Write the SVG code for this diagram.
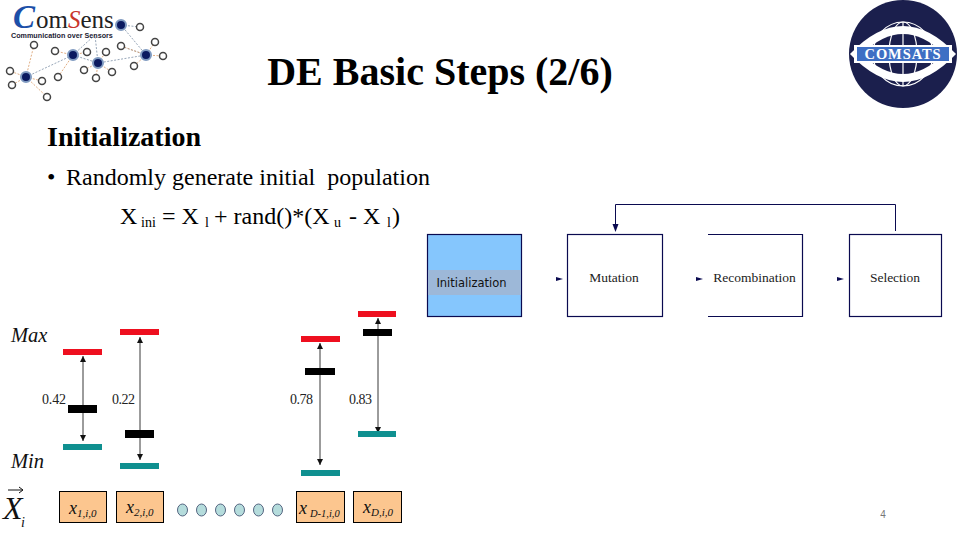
<svg xmlns="http://www.w3.org/2000/svg" width="960" height="540" viewBox="0 0 960 540">
<style>
.s{font-family:"Liberation Serif","Times New Roman",serif;fill:#000}
.f{fill:#fff;stroke:#0a0a50;stroke-width:1.2}
.fl{font-family:"Liberation Serif",serif;font-size:13.5px;fill:#222}
.red{fill:#ee0f1f}.teal{fill:#0f9090}.blk{fill:#000}
.ar{stroke:#222;stroke-width:.9;fill:none;marker-start:url(#a2);marker-end:url(#a1)}
.box{fill:#fcc68f;stroke:#000;stroke-width:1}
.dot{fill:#b5dcdc;stroke:#346;stroke-width:.8}
.num{font-family:"Liberation Serif",serif;font-size:14px;fill:#222}
.it{font-family:"Liberation Serif",serif;font-style:italic;fill:#111}
.hub{fill:#0b1a60;stroke:#7f9ac0;stroke-width:2}
.leaf{fill:#fff;stroke:#444;stroke-width:1.5}
.ln1{stroke:#6a8099;stroke-width:.7;stroke-dasharray:2 1.5;fill:none}
.ln2{stroke:#d99a66;stroke-width:.8;stroke-dasharray:2 1.5;fill:none}
</style>
<defs>
<marker id="a1" markerWidth="8" markerHeight="8" refX="6" refY="3" orient="auto" markerUnits="userSpaceOnUse"><path d="M0 0L6 3L0 6Z" fill="#111"/></marker>
<marker id="a2" markerWidth="8" markerHeight="8" refX="0" refY="3" orient="auto" markerUnits="userSpaceOnUse"><path d="M6 0L0 3L6 6Z" fill="#111"/></marker>
</defs>
<rect width="960" height="540" fill="#fff"/>

<g id="comsens-logo">
<path class="ln1" d="M26 77L73 55L98 63L146 55L121 25"/>
<path class="ln1" d="M121 25L140 27M73 55L95 35M98 63L95 35M146 55L118 45"/>
<path class="ln2" d="M26 77L34 45M26 77L10 71M26 77L12 85M26 77L42 81M26 77L47 97M73 55L55 51M73 55L58 77M73 55L87 52M98 63L84 70M98 63L106 52M98 63L112 72M98 63L96 78M146 55L121 46M146 55L155 42M146 55L163 56M146 55L134 66"/>
<g class="leaf"><circle cx="34" cy="45" r="3.500"/><circle cx="10" cy="71" r="3.500"/><circle cx="12" cy="85" r="3.500"/><circle cx="42" cy="81" r="3.500"/><circle cx="47" cy="97" r="3.500"/><circle cx="55" cy="51" r="3.500"/><circle cx="58" cy="77" r="3.500"/><circle cx="87" cy="52" r="3.500"/><circle cx="84" cy="70" r="3.500"/><circle cx="106" cy="52" r="3.500"/><circle cx="112" cy="72" r="3.500"/><circle cx="96" cy="78" r="3.500"/><circle cx="121" cy="46" r="3.500"/><circle cx="155" cy="42" r="3.500"/><circle cx="163" cy="56" r="3.500"/><circle cx="134" cy="66" r="3.500"/><circle cx="140" cy="27" r="3.500"/></g>
<g class="hub"><circle cx="26" cy="77" r="5"/><circle cx="73" cy="55" r="5"/><circle cx="98" cy="63" r="5"/><circle cx="146" cy="55" r="5"/><circle cx="121" cy="25" r="5"/></g>
<text x="13" y="28" font-family="Liberation Serif,serif" font-style="italic" font-weight="bold" font-size="33" fill="#1c4fa8">C</text>
<text x="36" y="28" font-family="Liberation Serif,serif" font-size="25" fill="#222">om<tspan fill="#c9352b" font-style="italic">S</tspan>ens</text>
<text x="11" y="37.500" font-family="Liberation Sans,sans-serif" font-weight="bold" font-size="7.200" fill="#223">Communication over Sensors</text>
</g>

<g id="comsats-logo">
<circle cx="903" cy="54" r="54" fill="#1b1f4d"/>
<path d="M850 54Q903 -2 956 54Q903 110 850 54Z" fill="#fff"/>
<path d="M862 54Q903 14 944 54Q903 94 862 54Z" fill="#1b1f4d"/>
<g fill="none" stroke="#fff" stroke-width="1.2"><ellipse cx="903" cy="54" rx="14" ry="32"/><ellipse cx="903" cy="54" rx="30" ry="32"/><path d="M903 22V86"/></g>
<rect x="854" y="45" width="98" height="18" fill="#fff"/>
<rect x="857" y="47" width="92" height="14" fill="#3e6fc4"/>
<text x="903" y="59" text-anchor="middle" font-family="Liberation Serif,serif" font-weight="bold" font-size="14.500" letter-spacing=".9" fill="#fff">COMSATS</text>
</g>

<g id="title"><text class="s" x="440" y="85" text-anchor="middle" font-size="40" font-weight="bold">DE Basic Steps (2/6)</text></g>
<g id="body">
<text class="s" x="47" y="146" font-size="28" font-weight="bold">Initialization</text>
<text class="s" x="47" y="185" font-size="24">•</text>
<text class="s" x="66" y="185" font-size="24" xml:space="preserve">Randomly generate initial  population</text>
<text class="s" x="120" y="224" font-size="24">X<tspan font-size="14" x="141" dy="3">ini</tspan><tspan x="162" dy="-3">= X</tspan><tspan font-size="14" x="205" dy="3">l</tspan><tspan x="214" dy="-3">+ rand()*(X</tspan><tspan font-size="14" x="334" dy="3">u</tspan><tspan x="349" dy="-3">- X</tspan><tspan font-size="14" x="387" dy="3">l</tspan><tspan x="392" dy="-3">)</tspan></text>
</g>

<g id="node-initialization">
<rect x="427.500" y="234.500" width="94" height="82" fill="#85c6fd" stroke="#0a0a50" stroke-width="1.2"/>
<rect x="428" y="270" width="93" height="25" fill="#9db8d8"/>
<text x="471.500" y="287" text-anchor="middle" font-family="DejaVu Sans,sans-serif" font-size="11.500" fill="#111">Initialization</text>
</g>
<g id="node-mutation"><rect class="f" x="567.500" y="234.500" width="95" height="82"/><text class="fl" x="614" y="282" text-anchor="middle">Mutation</text></g>
<g id="node-recombination"><path class="f" d="M708 234.500H802.500V316.500H708"/><text class="fl" x="754.500" y="282" text-anchor="middle">Recombination</text></g>
<g id="node-selection"><rect class="f" x="849.500" y="234.500" width="92" height="82"/><text class="fl" x="895" y="282" text-anchor="middle">Selection</text></g>

<g id="connectors">
<path d="M556 277L563 279L556 281Z" fill="#0a0a50"/>
<path d="M696 277L703 279L696 281Z" fill="#0a0a50"/>
<path d="M837 277L844 279L837 281Z" fill="#0a0a50"/>
<path d="M895.500 231V204.500H615.500V226" fill="none" stroke="#0a0a50" stroke-width="1"/>
<path d="M612.500 224H618.500L615.500 232Z" fill="#0a0a50"/>
<path class="ar" d="M83 356V441"/>
<path class="ar" d="M140 337V460"/>
<path class="ar" d="M320 343V465"/>
<path class="ar" d="M378 318V433"/>
</g>

<g id="var-1"><rect class="red" x="63" y="349" width="39" height="6"/><rect class="blk" x="68" y="405" width="29" height="8"/><rect class="teal" x="63" y="444" width="39" height="6"/><text class="num" x="42" y="404" textLength="24">0.42</text></g>
<g id="var-2"><rect class="red" x="120" y="329" width="39" height="6"/><rect class="blk" x="125" y="430" width="29" height="8"/><rect class="teal" x="120" y="463" width="39" height="6"/><text class="num" x="112" y="404" textLength="23">0.22</text></g>
<g id="var-3"><rect class="red" x="301" y="336" width="39" height="6"/><rect class="blk" x="305" y="368" width="30" height="7"/><rect class="teal" x="301" y="470" width="39" height="6"/><text class="num" x="290" y="404" textLength="23">0.78</text></g>
<g id="var-4"><rect class="red" x="358" y="311" width="38" height="6"/><rect class="blk" x="363" y="329" width="29" height="7"/><rect class="teal" x="358" y="431" width="38" height="6"/><text class="num" x="349" y="404" textLength="23">0.83</text></g>

<g id="axis-labels">
<text class="it" x="11" y="342" font-size="20.500">Max</text>
<text class="it" x="11" y="468" font-size="20.500">Min</text>
<text class="it" x="3" y="519" font-size="32">X</text>
<text class="it" x="21" y="527" font-size="14">i</text>
<path d="M8 490H23M19 487L23 490L19 493" fill="none" stroke="#111" stroke-width="1"/>
</g>

<g id="cell-1"><rect class="box" x="59.500" y="491.500" width="47" height="31"/><text class="it" x="69" y="514" font-size="18">x<tspan font-size="11" dy="3">1,i,0</tspan></text></g>
<g id="cell-2"><rect class="box" x="116.500" y="491.500" width="47" height="31"/><text class="it" x="126" y="513" font-size="18">x<tspan font-size="11" dy="3">2,i,0</tspan></text></g>
<g id="cell-3"><rect class="box" x="296.500" y="491.500" width="48" height="31"/><text class="it" x="299" y="514" font-size="18">x<tspan font-size="10.500" dx="3" dy="3">D-1,i,0</tspan></text></g>
<g id="cell-4"><rect class="box" x="353.500" y="491.500" width="48" height="31"/><text class="it" x="363" y="513" font-size="18">x<tspan font-size="11" dy="3">D,i,0</tspan></text></g>

<g id="dots">
<ellipse class="dot" cx="182.500" cy="510" rx="5" ry="6"/><ellipse class="dot" cx="201.500" cy="510" rx="5" ry="6"/><ellipse class="dot" cx="220.500" cy="510" rx="5" ry="6"/><ellipse class="dot" cx="239.500" cy="510" rx="5" ry="6"/><ellipse class="dot" cx="258.500" cy="510" rx="5" ry="6"/><ellipse class="dot" cx="277.500" cy="510" rx="5" ry="6"/>
</g>
<g id="page-number"><text x="883" y="518" text-anchor="middle" font-family="Liberation Sans,sans-serif" font-size="10" fill="#777">4</text></g>
</svg>
